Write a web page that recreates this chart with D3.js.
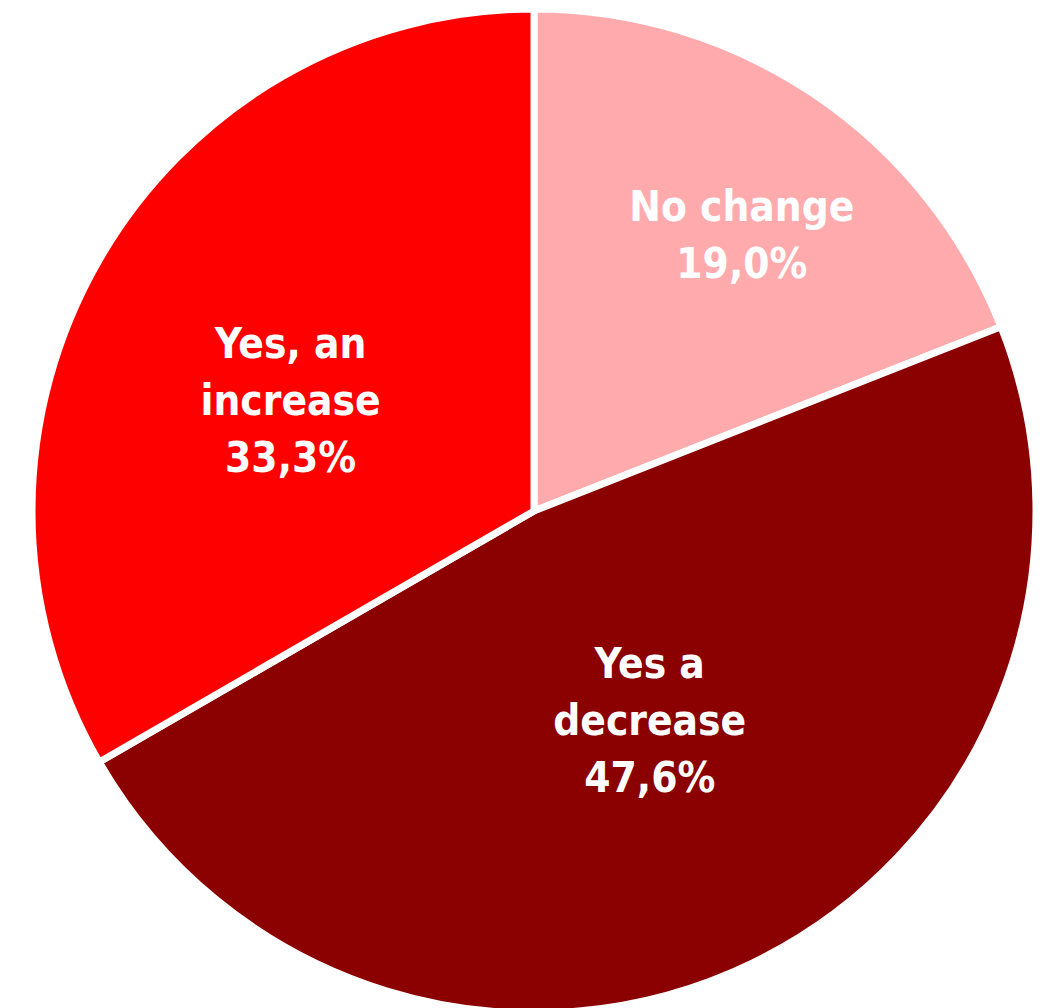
<!DOCTYPE html>
<html>
<head>
<meta charset="utf-8">
<script src="https://cdn.jsdelivr.net/npm/d3@7"></script>
<style>
  body { margin: 0; background: #fff; }
  text { font-family: "DejaVu Sans Condensed", "Roboto", sans-serif; font-weight: bold; fill: #fff; }
</style>
</head>
<body>
<div id="chart"></div>
<script>
// data
var labels = [["No change"], ["Yes a", "decrease"], ["Yes, an", "increase"]];
var values = [19.0, 47.6, 33.3];
var colors = ["#ffaaad", "#8b0000", "#ff0000"];

var width = 1050;
var height = 1008;
var cx = 534, cy = 511;
var radius = 502;
// how far out each label sits (fraction of radius) + small nudges
var labelPos = [0.69, 0.48, 0.53];
var nudge = [[13, 10], [11, -8], [-13, 22]];
var lineH = 57;

var svg = d3.select("#chart").append("svg")
  .attr("width", width)
  .attr("height", height);

var g = svg.append("g").attr("transform", "translate(" + cx + "," + cy + ")");

var pie = d3.pie().sort(null).value(function(d){ return d; });
var arcs = pie(values);

var arc = d3.arc().innerRadius(0).outerRadius(radius);

g.selectAll(".slice")
  .data(arcs)
  .enter().append("path")
  .attr("class", "slice")
  .attr("d", arc)
  .attr("fill", function(d, i){ return colors[i]; })
  .attr("stroke", "#fff")
  .attr("stroke-width", 7)
  .attr("stroke-linejoin", "round");

var fmt = function(v){ return v.toFixed(1).replace(".", ",") + "%"; };

arcs.forEach(function(d, i){
  var r = radius * labelPos[i];
  var c = d3.arc().innerRadius(r).outerRadius(r).centroid(d);
  var x = c[0] + nudge[i][0], y = c[1] + nudge[i][1];
  var lines = labels[i].concat([fmt(values[i])]);
  var t = g.append("text")
    .attr("text-anchor", "middle")
    .attr("font-size", 42)
    .attr("x", x)
    .attr("y", y - (lines.length - 1) * lineH / 2 + 15);
  lines.forEach(function(l, j){
    t.append("tspan")
      .attr("x", x)
      .attr("dy", j === 0 ? 0 : lineH)
      .text(l);
  });
});
</script>
</body>
</html>
